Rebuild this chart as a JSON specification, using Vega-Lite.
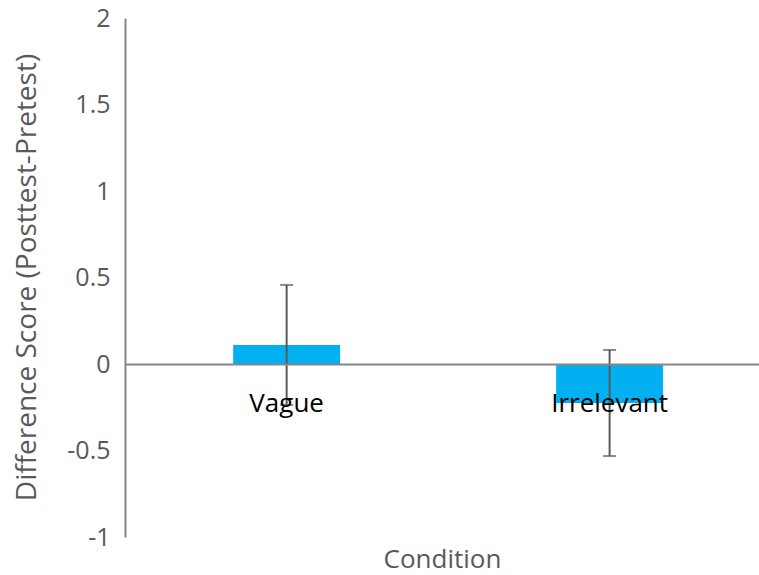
{
  "$schema": "https://vega.github.io/schema/vega-lite/v6.json",
  "autosize": {"type": "none"},
  "padding": {"left": 125, "top": 18, "right": 0, "bottom": 38},
  "width": 634,
  "height": 519,
  "background": "white",
  "config": {
    "view": {"stroke": null},
    "font": "Open Sans"
  },
  "data": {
    "values": [
      {"condition": "Vague", "score": 0.11, "lo": -0.237, "hi": 0.457},
      {"condition": "Irrelevant", "score": -0.225, "lo": -0.532, "hi": 0.081}
    ]
  },
  "encoding": {
    "x": {
      "field": "condition",
      "type": "nominal",
      "sort": ["Vague", "Irrelevant"],
      "scale": {"paddingInner": 0.669, "paddingOuter": 0.316, "align": 0.53},
      "axis": {
        "title": "Condition",
        "titleFont": "Open Sans",
        "titleFontSize": 26,
        "titleFontWeight": "normal",
        "titleColor": "#595959",
        "titleBaseline": "alphabetic",
        "titleY": 203,
        "labelAngle": 0,
        "labelFont": "Open Sans",
        "labelFontSize": 26,
        "labelColor": "#000000",
        "labelPadding": 47,
        "labelBaseline": "alphabetic",
        "labelOverlap": false,
        "ticks": false,
        "offset": -173,
        "domainColor": "#868686",
        "domainWidth": 2,
        "grid": false,
        "zindex": 1
      }
    }
  },
  "layer": [
    {
      "mark": {"type": "bar", "color": "#00B0F0"},
      "encoding": {
        "y": {
          "field": "score",
          "type": "quantitative",
          "scale": {"domain": [-1, 2], "nice": false, "zero": false},
          "axis": {
            "title": "Difference Score (Posttest-Pretest)",
            "titleFont": "Open Sans",
            "titleFontSize": 28,
            "titleFontWeight": "normal",
            "titleColor": "#595959",
            "titleBaseline": "alphabetic",
            "titleAlign": "center",
            "titleAngle": -90,
            "titleX": -90,
            "titleY": 259,
            "values": [-1, -0.5, 0, 0.5, 1, 1.5, 2],
            "labelExpr": "datum.value < 0 ? '-' + format(-datum.value, '') : format(datum.value, '')",
            "labelFont": "Open Sans",
            "labelFontSize": 25,
            "labelColor": "#595959",
            "labelPadding": 15,
            "ticks": false,
            "grid": false,
            "domainColor": "#868686",
            "domainWidth": 2
          }
        }
      }
    },
    {
      "mark": {"type": "rule", "color": "#595959", "strokeWidth": 2},
      "encoding": {
        "y": {"field": "lo", "type": "quantitative"},
        "y2": {"field": "hi"}
      }
    },
    {
      "mark": {"type": "tick", "color": "#595959", "orient": "horizontal", "size": 13, "thickness": 2},
      "encoding": {
        "y": {"field": "lo", "type": "quantitative"}
      }
    },
    {
      "mark": {"type": "tick", "color": "#595959", "orient": "horizontal", "size": 13, "thickness": 2},
      "encoding": {
        "y": {"field": "hi", "type": "quantitative"}
      }
    }
  ]
}
